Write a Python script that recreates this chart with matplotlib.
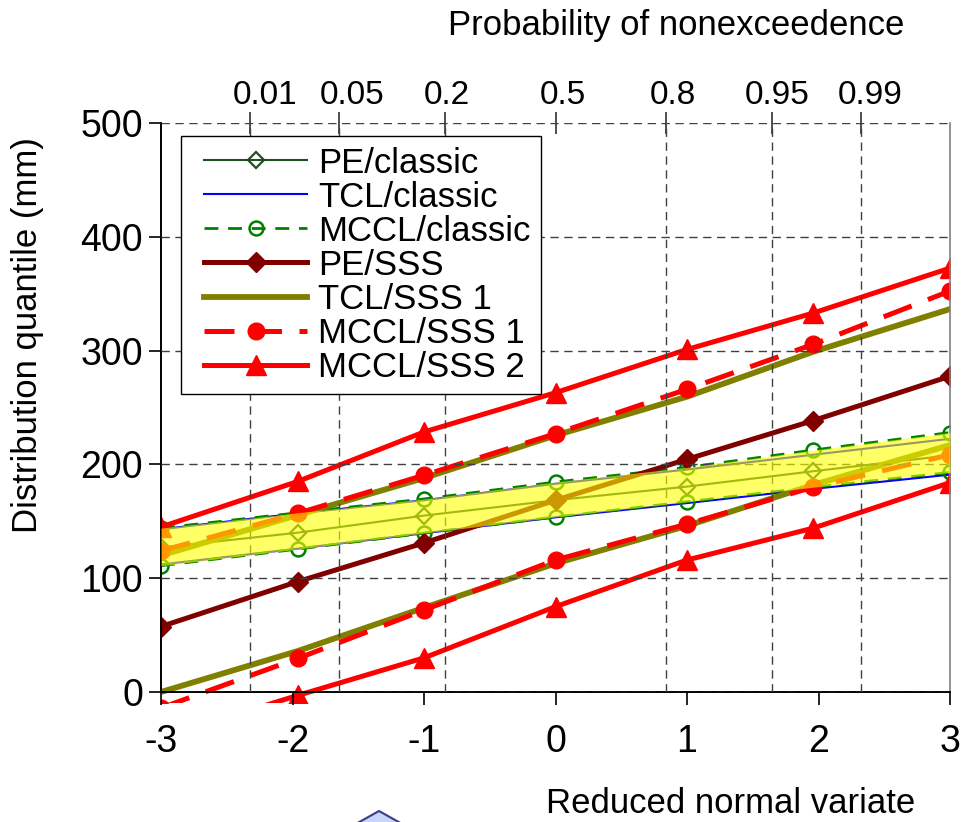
import matplotlib
matplotlib.use("Agg")
import matplotlib.pyplot as plt
from matplotlib.patches import Rectangle, Polygon
from matplotlib.lines import Line2D
from matplotlib.legend_handler import HandlerLine2D
from matplotlib.transforms import blended_transform_factory, ScaledTranslation
from statistics import NormalDist

plt.rcParams['font.family'] = ['Liberation Sans', 'DejaVu Sans']

# ---- data ----
x_vals = [-3, -1.96, -1, 0, 1, 1.96, 3]
pe_classic = [127, 140, 155, 168.5, 180.5, 194, 208]
tcl_classic_up = [143, 157, 168.5, 183, 195.5, 208.5, 222.5]
tcl_classic_lo = [112, 126, 139.5, 153.5, 166, 178.5, 191]
mccl_classic_up = [144, 157.5, 169.6, 184.5, 197.4, 212.6, 228]
mccl_classic_lo = [111, 125.6, 139.6, 153.8, 167.2, 180, 193]
pe_sss = [57.5, 97, 131, 168.5, 204.5, 238.5, 277.5]
tcl_sss1_up = [120, 155.5, 188, 225.5, 259.5, 299, 336.5]
tcl_sss1_lo = [0, 36, 74, 113, 146, 182, 217]
mccl_sss1_up = [124, 157, 190.5, 227, 266, 305.5, 352.4]
mccl_sss1_lo = [-14, 29.5, 72, 116, 147.6, 180, 208.5]
mccl_sss2_up = [145, 185, 228.5, 263, 301, 333, 372.5]
mccl_sss2_lo = [-40, -3, 30, 75, 116, 144, 184]

x_ticks = [-3, -2, -1, 0, 1, 2, 3]
y_ticks = [0, 100, 200, 300, 400, 500]
prob_ticks = [0.01, 0.05, 0.2, 0.5, 0.8, 0.95, 0.99]
prob_labels = ["0.01", "0.05", "0.2", "0.5", "0.8", "0.95", "0.99"]
# small horizontal offsets (px) of the probability labels as placed in the original
prob_label_dx = [15, 13, 2, 7, 7, 5, 9]

z_ticks = [NormalDist().inv_cdf(p) for p in prob_ticks]

W, H = 967, 822
fig = plt.figure(figsize=(W / 100, H / 100), dpi=100)
ax = fig.add_axes([161 / W, 1 - 692 / H, (950 - 161) / W, (692 - 123) / H])

clip = Rectangle((0, -0.02), 1, 1.02, transform=ax.transAxes, visible=False)
fig.add_artist(clip)

def plot(y, **kw):
    ln, = ax.plot(x_vals, y, **kw)
    ln.set_clip_path(clip)
    return ln

dark_green = '#1f4f1f'
h1 = plot(pe_classic, color=dark_green, lw=1.5, marker='D', ms=8, mfc='none',
          mec=dark_green, mew=1.6, label='PE/classic')
h2 = plot(tcl_classic_up, color='#0000ff', lw=1.5, label='TCL/classic')
plot(tcl_classic_lo, color='#0000ff', lw=1.5)
h3 = plot(mccl_classic_up, color='#008000', lw=2, ls=(0, (5, 3.5)), marker='o', ms=10,
          mfc='none', mec='#008000', mew=1.8, label='MCCL/classic')
plot(mccl_classic_lo, color='#008000', lw=2, ls=(0, (5, 3.5)), marker='o', ms=10,
     mfc='none', mec='#008000', mew=1.8)
h4 = plot(pe_sss, color='#800000', lw=3.6, marker='D', ms=10, mfc='#800000',
          mec='#800000', label='PE/SSS')
h5 = plot(tcl_sss1_up, color='#808000', lw=4.2, label='TCL/SSS 1')
plot(tcl_sss1_lo, color='#808000', lw=4.2)
h6 = plot(mccl_sss1_up, color='#ff0000', lw=3.6, ls=(0, (6, 3.5)), marker='o', ms=12,
          mfc='#ff0000', mec='#ff0000', label='MCCL/SSS 1')
plot(mccl_sss1_lo, color='#ff0000', lw=3.6, ls=(0, (6, 3.5)), marker='o', ms=12,
     mfc='#ff0000', mec='#ff0000')
h7 = plot(mccl_sss2_up, color='#ff0000', lw=3.6, marker='^', ms=14, mfc='#ff0000',
          mec='#ff0000', label='MCCL/SSS 2')
plot(mccl_sss2_lo, color='#ff0000', lw=3.6, marker='^', ms=14, mfc='#ff0000',
     mec='#ff0000')

# yellow band over classic bounds
ax.fill_between(x_vals, mccl_classic_lo, mccl_classic_up, color='#ffff00',
                alpha=0.6, lw=0, zorder=5)

ax.set_xlim(-3, 3)
ax.set_ylim(0, 500)
ax.set_xticks(x_ticks)
ax.set_xticklabels([str(v) for v in x_ticks])
ax.set_yticks(y_ticks)
ax.set_xticks(z_ticks, minor=True)
ax.tick_params(axis='x', which='minor', length=0)
ax.tick_params(axis='both', which='major', direction='out', length=9, width=1.2,
               labelsize=27, color='black')
ax.tick_params(axis='x', which='major', pad=14)
ax.tick_params(axis='y', which='major', pad=4)

grid_kw = dict(color='#404040', lw=1.0, ls=(0, (6, 4)))
ax.grid(True, axis='x', which='minor', **grid_kw)
ax.grid(True, axis='y', which='major', **grid_kw)
ax.grid(False, axis='x', which='major')
ax.set_axisbelow(False)

ax.spines['top'].set_visible(False)
ax.spines['right'].set_color('#808080')
ax.spines['right'].set_linewidth(1.2)
ax.spines['left'].set_linewidth(1.4)
ax.spines['bottom'].set_linewidth(1.4)

sec = ax.secondary_xaxis('top')
sec.set_xticks(z_ticks)
sec.set_xticklabels([])
sec.tick_params(direction='inout', length=16, width=1.3, color='#404040',
                labeltop=False)
sec.spines['top'].set_visible(False)

btrans = blended_transform_factory(ax.transData, ax.transAxes)
for z, lab, dx in zip(z_ticks, prob_labels, prob_label_dx):
    t = btrans + ScaledTranslation(dx / 100, 0, fig.dpi_scale_trans)
    ax.text(z, 1 + 27 / 569, lab, transform=t, fontsize=24, ha='center',
            va='center', clip_on=False)

handler = HandlerLine2D(xpad=0.37)
leg = ax.legend(handles=[h1, h2, h3, h4, h5, h6, h7], loc='upper left',
                bbox_to_anchor=(0.025, 0.977), borderaxespad=0, fontsize=25,
                frameon=True, fancybox=False, framealpha=1, edgecolor='black',
                labelspacing=0.03, handlelength=3.35, handletextpad=0.3,
                borderpad=0.3, handler_map={Line2D: handler})
leg.get_frame().set_linewidth(1.0)
leg.set_zorder(10)

fig.text(676 / W, 1 - 26 / H, 'Probability of nonexceedence', fontsize=25,
         ha='center', va='center')
fig.text(731 / W, 1 - 803 / H, 'Reduced normal variate', fontsize=25,
         ha='center', va='center')
fig.text(28 / W, 1 - 335 / H, 'Distribution quantile (mm)', fontsize=25,
         ha='center', va='center', rotation=90)

poly = Polygon([(330 / W, -0.02), (379 / W, 1 - 811 / H), (428 / W, -0.02)],
               closed=True, transform=fig.transFigure, facecolor='#c8d4f8',
               edgecolor='#3c3c8c', lw=1.5)
fig.add_artist(poly)

fig.savefig('out.png', dpi=100)
